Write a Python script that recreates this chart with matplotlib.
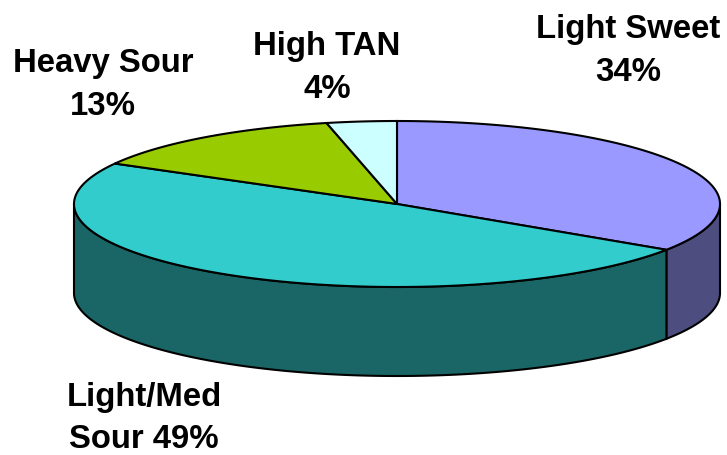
#!/usr/bin/env python3
# -*- coding: utf-8 -*-
import numpy as np
import matplotlib
matplotlib.use("Agg")
import matplotlib.pyplot as plt

names = ['Light Sweet', 'Light/Med Sour', 'Heavy Sour', 'High TAN']
shares = [34.3, 48.8, 13.4, 3.5]
top_colors = ['#9999FF', '#33CCCC', '#99CC00', '#CCFFFF']
side_colors = ['#4D4D80', '#1A6666', '#4D6600', '#668080']

#Labels as they are broken over lines in the picture
label_text = ['Light Sweet\n34%', 'Light/Med\nSour 49%', 'Heavy Sour\n13%', 'High TAN\n4%']
label_pos = [(628, 51), (144, 418.5), (103, 85), (327, 68)]

cx, cy = 397, 205
rx, ry = 323, 83
depth = 89


def rim(a, b):
    t = np.radians(np.linspace(a, b, max(int(abs(b - a) * 2), 2)))
    return cx + rx * np.sin(t), cy - ry * np.cos(t)


fig = plt.figure(figsize=(7.27, 4.56), dpi=100)
ax = fig.add_axes([0, 0, 1, 1])
ax.set_xlim(0, 727)
ax.set_ylim(456, 0)
ax.axis('off')

edges = np.concatenate([[0], np.cumsum(shares)]) * 360 / sum(shares)

#Side walls first, only the front half of the rim shows
for i in range(len(shares)):
    a, b = max(edges[i], 90), min(edges[i + 1], 270)
    if a >= b:
        continue
    x, y = rim(a, b)
    ax.fill(np.r_[x, x[::-1]], np.r_[y, y[::-1] + depth],
            facecolor=side_colors[i], edgecolor='black', lw=1.5)

#Top face
for i in range(len(shares)):
    x, y = rim(edges[i], edges[i + 1])
    ax.fill(np.r_[cx, x], np.r_[cy, y],
            facecolor=top_colors[i], edgecolor='black', lw=1.5)

for txt, (px, py) in zip(label_text, label_pos):
    ax.text(px, py, txt, family='Liberation Sans', weight='bold', fontsize=23.7,
            ha='center', va='center', linespacing=1.49, color='black')

plt.savefig('out.png', dpi=100)
